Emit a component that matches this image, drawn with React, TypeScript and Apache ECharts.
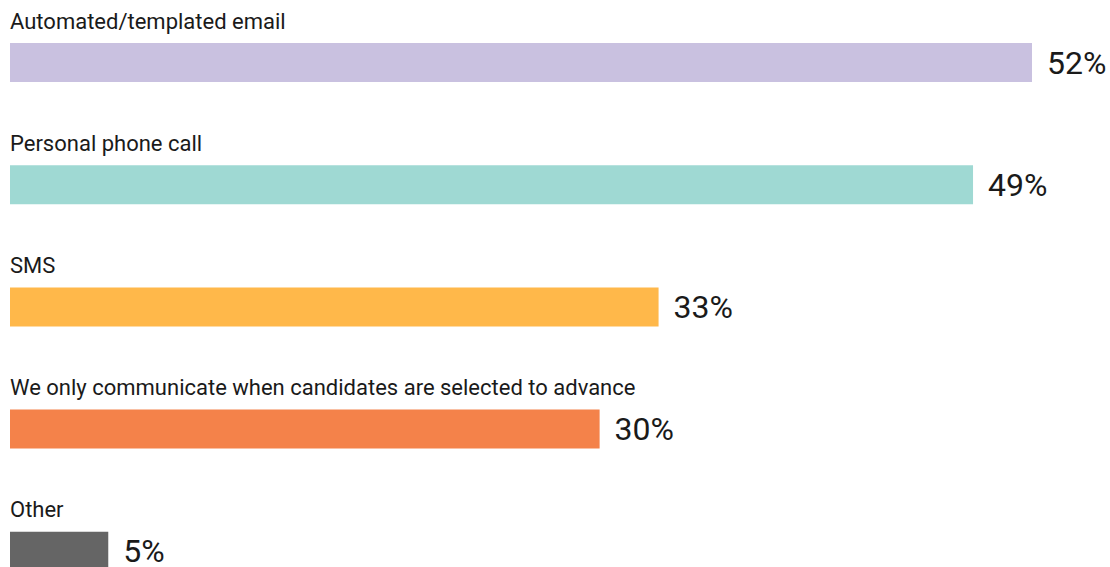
import React, { useEffect, useRef } from "react";
import * as echarts from "echarts";

const categories = [
  "Automated/templated email",
  "Personal phone call",
  "SMS",
  "We only communicate when candidates are selected to advance",
  "Other",
];
const values = [52, 49, 33, 30, 5];
const colors = ["#c9c1e0", "#9fd9d3", "#ffb84a", "#f4824a", "#656565"];

export default function App() {
  const ref = useRef<HTMLDivElement>(null);
  useEffect(() => {
    if (!ref.current) return;
    const chart = echarts.init(ref.current, undefined, { renderer: "svg" });
    chart.setOption({
      animation: false,
      grid: { left: 10, right: 78, top: 1.4, bottom: 7.6, containLabel: false },
      xAxis: { type: "value", min: 0, max: 52, show: false },
      yAxis: {
        type: "category",
        data: categories,
        inverse: true,
        show: false,
      },
      series: [
        {
          type: "bar",
          barWidth: 39,
          data: values.map((v, i) => ({ value: v, itemStyle: { color: colors[i] } })),
          label: {
            show: true,
            position: "right",
            distance: 15,
            formatter: "{c}%",
            fontFamily: "Roboto",
            fontSize: 32,
            color: "#1a1a1a",
          },
        },
        {
          type: "bar",
          barWidth: 39,
          barGap: "-100%",
          silent: true,
          data: values.map((v) => ({ value: v, itemStyle: { color: "transparent" } })),
          label: {
            show: true,
            position: [0, -11],
            align: "left",
            verticalAlign: "bottom",
            formatter: (p: any) => categories[p.dataIndex],
            fontFamily: "Roboto",
            fontSize: 22,
            color: "#1a1a1a",
          },
        },
      ],
    });
    return () => chart.dispose();
  }, []);
  return (
    <div
      style={{
        position: "absolute",
        left: 0,
        top: 0,
        width: 1110,
        height: 567,
        overflow: "hidden",
      }}
    >
      <div ref={ref} style={{ width: 1110, height: 620 }} />
    </div>
  );
}
